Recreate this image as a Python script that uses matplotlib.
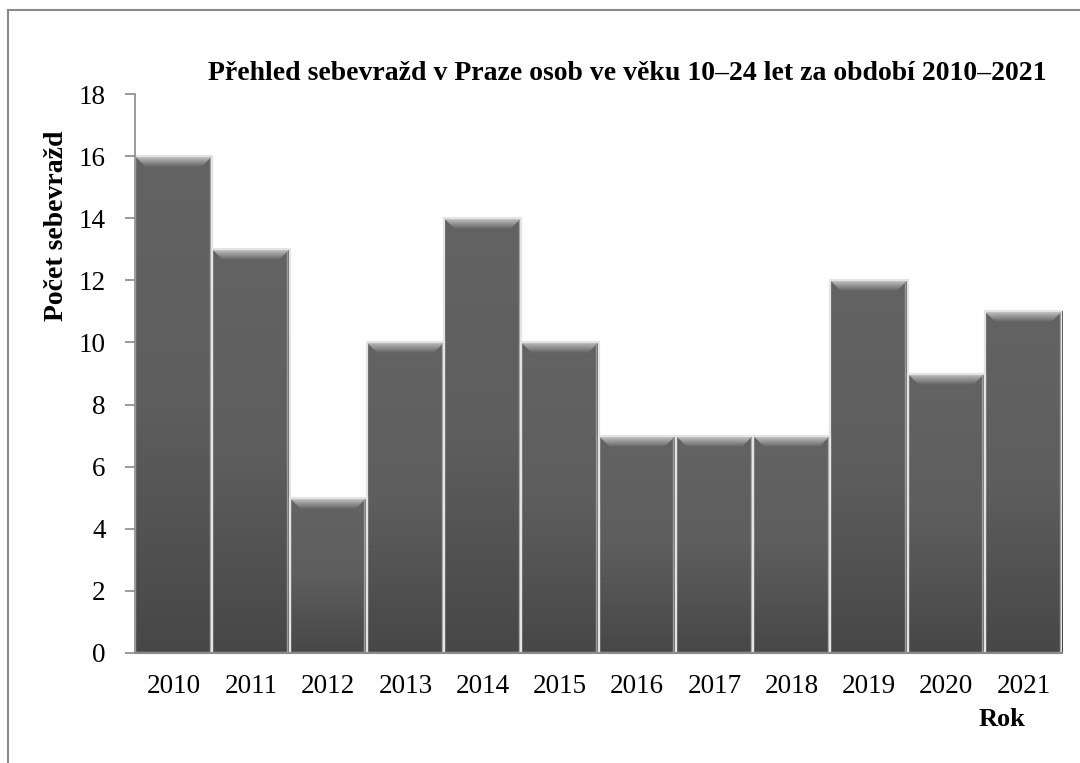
import matplotlib
matplotlib.use("Agg")
import matplotlib.pyplot as plt
import numpy as np
from matplotlib.colors import LinearSegmentedColormap
from matplotlib.lines import Line2D
from matplotlib.patches import Polygon

years = ["2010", "2011", "2012", "2013", "2014", "2015", "2016", "2017", "2018", "2019", "2020", "2021"]
counts = [16, 13, 5, 10, 14, 10, 7, 7, 7, 12, 9, 11]
yticks = [0, 2, 4, 6, 8, 10, 12, 14, 16, 18]

plt.rcParams['font.family'] = ['Liberation Serif', 'DejaVu Serif']

W, H = 1080, 763
fig = plt.figure(figsize=(W / 100, H / 100), dpi=100)
ax = fig.add_axes([135 / W, 1 - 653 / H, (1062 - 135) / W, (653 - 94) / H])

x = np.arange(len(years))
bars = ax.bar(x, counts, width=1.0, color="#5a5a5a", edgecolor="none", linewidth=0, zorder=2)

ax.set_xlim(-0.5, len(years) - 0.5)
ax.set_ylim(0, 18)

# pixel -> data units
dx = (len(years)) / (1062 - 135)
dy = 18 / (653 - 94)

grad_cmap = LinearSegmentedColormap.from_list("g", ["#474747", "#5e5e5e", "#636363"])
bev_cmap = LinearSegmentedColormap.from_list("b", ["#636363", "#c8c8c8"])
for b in bars:
    bx, by = b.get_x(), b.get_y()
    bw, bh = b.get_width(), b.get_height()
    grad = np.linspace(0, 1, 256).reshape(-1, 1)
    im = ax.imshow(grad, extent=[bx, bx + bw, by, by + bh], origin="lower",
                   cmap=grad_cmap, aspect="auto", zorder=2.5)
    im.set_clip_path(b)
    top = by + bh
    bv = 11
    trap = Polygon([(bx, top), (bx + bw, top), (bx + bw - bv * dx, top - bv * dy), (bx + bv * dx, top - bv * dy)],
                   closed=True, facecolor="none", edgecolor="none", transform=ax.transData)
    ax.add_patch(trap)
    bevgrad = np.linspace(0, 1, 64).reshape(-1, 1)
    im2 = ax.imshow(bevgrad, extent=[bx, bx + bw, top - bv * dy, top], origin="lower",
                    cmap=bev_cmap, aspect="auto", zorder=2.6)
    im2.set_clip_path(trap)
    ax.plot([bx + bw - 2.5 * dx, bx + bw - 2.5 * dx], [by, top - 2 * dy], color="#9a9a9a", linewidth=1.0, zorder=2.7)
    edge = plt.Rectangle((bx, by), bw, bh, fill=False, edgecolor="#e4e4e4", linewidth=1.6, zorder=3)
    ax.add_patch(edge)

ax.set_yticks(yticks)
ax.set_xticks(x)
ax.set_xticklabels(years)
ax.tick_params(axis="x", length=0, pad=15, labelsize=19.5)
ax.tick_params(axis="y", length=7, width=1.2, color="#8a8a8a", direction="out", pad=14, labelsize=19.5)
for s in ["top", "right"]:
    ax.spines[s].set_visible(False)
ax.spines["left"].set_color("#8a8a8a")
ax.spines["bottom"].set_color("#8a8a8a")
ax.spines["left"].set_linewidth(1.2)
ax.spines["bottom"].set_linewidth(1.5)
ax.spines["left"].set_zorder(4)
ax.spines["bottom"].set_zorder(4)

fig.text(627 / W, 1 - 73 / H, "Přehled sebevražd v Praze osob ve věku 10–24 let za období 2010–2021",
         ha="center", va="center", fontsize=20, fontweight="bold")
fig.text(57 / W, 1 - 226 / H, "Počet sebevražd", rotation=90, ha="center", va="center",
         fontsize=20, fontweight="bold")
fig.text(1002 / W, 1 - 720 / H, "Rok", ha="center", va="center", fontsize=19, fontweight="bold")

fig.add_artist(Line2D([8 / W, 8 / W], [0, 1 - 10 / H], color="#8a8a8a", linewidth=1.5, transform=fig.transFigure))
fig.add_artist(Line2D([8 / W, 1], [1 - 10 / H, 1 - 10 / H], color="#8a8a8a", linewidth=1.5, transform=fig.transFigure))

fig.savefig("out.png", dpi=100)
